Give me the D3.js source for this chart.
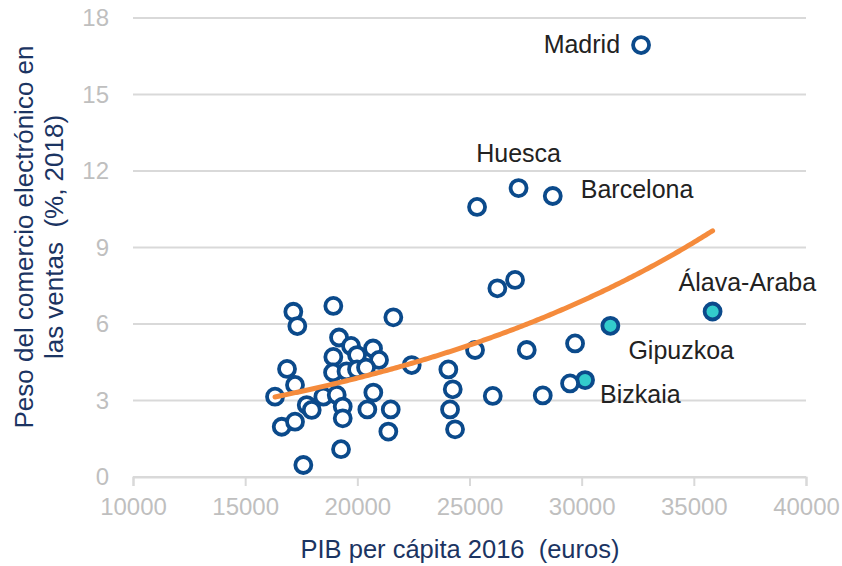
<!DOCTYPE html>
<html>
<head>
<meta charset="utf-8">
<script src="https://cdn.jsdelivr.net/npm/d3@7"></script>
<style>
  html, body { margin: 0; padding: 0; background: #fff; }
  svg text { font-family: "Liberation Sans", Arial, sans-serif; }
</style>
</head>
<body>
<svg id="chart" width="842" height="566"></svg>
<script>
// PIB per cápita 2016 (euros) por provincia
const pib = [
  32648, 27187, 25337, 28712, 27031, 26242, 35836, 31280, 30152, 29483,
  29706, 27552, 25247, 28266, 26037, 24057, 24253, 24133, 24356, 22425,
  21605, 17147, 17325, 18930, 19184, 19719, 20700, 18930, 19987, 20967,
  18917, 19518, 19987, 20388, 16866, 17222, 16331, 18484, 19081, 17744,
  17967, 19349, 19349, 20446, 20713, 21489, 21382, 16630, 17222, 19273,
  17593
];
// Peso del comercio electrónico en las ventas (%, 2018)
const ecom = [
  16.94, 11.33, 10.59, 11.02, 7.73, 7.40, 6.49, 5.93, 3.80, 3.67,
  5.24, 4.98, 4.98, 3.20, 3.18, 4.22, 3.44, 2.65, 1.87, 4.39,
  6.26, 6.48, 5.92, 6.71, 5.47, 5.14, 5.04, 4.71, 4.78, 4.59,
  4.10, 4.14, 4.22, 4.29, 4.24, 3.61, 3.15, 3.15, 3.22, 2.82,
  2.63, 2.76, 2.30, 2.65, 3.31, 2.65, 1.78, 1.97, 2.17, 1.09,
  0.47
];
// provincias con nombre (índice en los arrays de arriba)
const names = ["Madrid", "Huesca", "", "Barcelona", "", "", "Álava-Araba", "Gipuzkoa", "Bizkaia"];
const highlighted = ["Álava-Araba", "Gipuzkoa", "Bizkaia"];

// línea de tendencia exponencial del gráfico: y = a * e^(b x)
const trendCoef = [1.2256, 0.0000576];

const xTicks = [10000, 15000, 20000, 25000, 30000, 35000, 40000];
const yTicks = [0, 3, 6, 9, 12, 15, 18];

const xTitle = "PIB per cápita 2016\u00a0 (euros)";
const yTitle = ["Peso del comercio electrónico en", "las ventas\u00a0 (%, 2018)"];

const data = pib.map((x, i) => ({ x: x, y: ecom[i], name: names[i] || "" }));

const svg = d3.select("#chart");
const xScale = d3.scaleLinear().domain([10000, 40000]).range([133, 806]);
const yScale = d3.scaleLinear().domain([0, 18]).range([477, 18]);

// gridlines
svg.append("g")
  .selectAll("line")
  .data(yTicks)
  .enter()
  .append("line")
    .attr("x1", xScale(10000))
    .attr("x2", xScale(40000))
    .attr("y1", d => yScale(d))
    .attr("y2", d => yScale(d))
    .style("stroke", "#d9d9d9")
    .style("stroke-width", 2);

// x axis
const xAxis = svg.append("g")
  .attr("transform", "translate(0," + yScale(0) + ")")
  .call(d3.axisBottom(xScale).tickValues(xTicks).tickFormat(d3.format("d")).tickSize(9).tickPadding(12));
xAxis.select(".domain").style("stroke", "#d9d9d9").style("stroke-width", 2);
xAxis.selectAll(".tick line").style("stroke", "#d9d9d9").style("stroke-width", 2);
xAxis.selectAll(".tick text")
  .style("font-size", "24px")
  .style("fill", "#bfbfbf")
  .style("font-family", "'Liberation Sans', Arial, sans-serif");

// y axis labels
const yAxis = svg.append("g")
  .attr("transform", "translate(" + xScale(10000) + ",0)")
  .call(d3.axisLeft(yScale).tickValues(yTicks).tickSize(0).tickPadding(24));
yAxis.select(".domain").remove();
yAxis.selectAll(".tick text")
  .style("font-size", "24px")
  .style("fill", "#bfbfbf")
  .style("font-family", "'Liberation Sans', Arial, sans-serif");

// axis titles
svg.append("text")
  .attr("x", 460)
  .attr("y", 558)
  .attr("text-anchor", "middle")
  .style("font-size", "25.5px")
  .style("fill", "#1b3462")
  .text(xTitle);

svg.append("text")
  .attr("transform", "translate(33,237) rotate(-90)")
  .attr("text-anchor", "middle")
  .style("font-size", "26px")
  .style("fill", "#1b3462")
  .selectAll("tspan")
  .data(yTitle)
  .enter()
  .append("tspan")
    .attr("x", 0)
    .attr("dy", (d, i) => i == 0 ? 0 : 30)
    .text(d => d);

// points
svg.append("g")
  .selectAll("circle")
  .data(data)
  .enter()
  .append("circle")
    .attr("cx", d => xScale(d.x))
    .attr("cy", d => yScale(d.y))
    .attr("r", 8)
    .style("fill", d => highlighted.includes(d.name) ? "#33cccc" : "#fff")
    .style("stroke", "#0b4a8b")
    .style("stroke-width", 3.8);

// trendline over the range of the data
const xExt = d3.extent(data, d => d.x);
const trend = d3.range(xExt[0], xExt[1], 100).concat([xExt[1]])
  .map(x => [x, trendCoef[0] * Math.exp(trendCoef[1] * x)]);

svg.append("path")
  .datum(trend)
  .attr("d", d3.line().x(d => xScale(d[0])).y(d => yScale(d[1])))
  .style("fill", "none")
  .style("stroke", "#f58b3c")
  .style("stroke-width", 5)
  .style("stroke-linecap", "round");

// labels
const labelPos = {
  "Madrid":      { dx: -21, dy: 8,   anchor: "end" },
  "Huesca":      { dx: 0,   dy: -26, anchor: "middle" },
  "Barcelona":   { dx: 28,  dy: 2,   anchor: "start" },
  "Álava-Araba": { dx: -34, dy: -21, anchor: "start" },
  "Gipuzkoa":    { dx: 18,  dy: 33,  anchor: "start" },
  "Bizkaia":     { dx: 15,  dy: 23,  anchor: "start" }
};

svg.append("g")
  .selectAll("text")
  .data(data.filter(d => d.name != ""))
  .enter()
  .append("text")
    .attr("x", d => xScale(d.x) + labelPos[d.name].dx)
    .attr("y", d => yScale(d.y) + labelPos[d.name].dy)
    .attr("text-anchor", d => labelPos[d.name].anchor)
    .style("font-size", "25px")
    .style("fill", "#222")
    .text(d => d.name);
</script>
</body>
</html>
